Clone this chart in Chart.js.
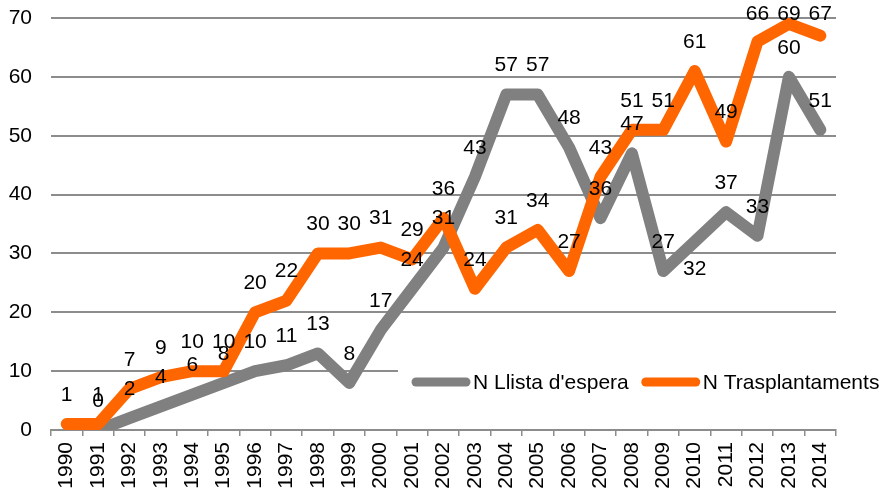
<!DOCTYPE html>
<html>
<head>
<meta charset="utf-8">
<script src="https://cdn.jsdelivr.net/npm/chart.js@4/dist/chart.umd.min.js"></script>
<style>
  html, body { margin: 0; padding: 0; background: #fff; }
  #wrap { width: 883px; height: 491px; }
</style>
</head>
<body>
<div id="wrap"><canvas id="myChart"></canvas></div>
<script>
const years = ['1990', '1991', '1992', '1993', '1994', '1995', '1996', '1997', '1998', '1999',
  '2000', '2001', '2002', '2003', '2004', '2005', '2006', '2007', '2008', '2009',
  '2010', '2011', '2012', '2013', '2014'];
const llistaEspera = [null, 0, 2, 4, 6, 8, 10, 11, 13, 8, 17, 24, 31, 43, 57, 57, 48, 36, 47, 27, 32, 37, 33, 60, 51];
const trasplantaments = [1, 1, 7, 9, 10, 10, 20, 22, 30, 30, 31, 29, 36, 24, 31, 34, 27, 43, 51, 51, 61, 49, 66, 69, 67];
const yTicks = [0, 10, 20, 30, 40, 50, 60, 70];

const FONT = "'Liberation Sans', Arial, sans-serif";

// legend inside the plot, on a white box (excel style)
const insideLegend = {
  id: 'insideLegend',
  beforeDatasetsDraw(chart) {
    const ctx = chart.ctx;
    const area = chart.chartArea;
    const cy = area.bottom - 48;
    ctx.save();
    ctx.fillStyle = '#fff';
    ctx.fillRect(area.right - 438, cy - 20, 500, 40);
    ctx.font = '21px ' + FONT;
    ctx.textBaseline = 'middle';
    let x = area.right - 424;
    chart.data.datasets.forEach(ds => {
      ctx.strokeStyle = ds.borderColor;
      ctx.lineWidth = 9;
      ctx.lineCap = 'round';
      ctx.beginPath();
      ctx.moveTo(x + 4, cy);
      ctx.lineTo(x + 54, cy);
      ctx.stroke();
      x += 61;
      ctx.fillStyle = '#000';
      ctx.fillText(ds.label, x, cy + 1);
      x += ctx.measureText(ds.label).width + 13;
    });
    ctx.restore();
  }
};

// value labels above each point
const valueLabels = {
  id: 'valueLabels',
  afterDatasetsDraw(chart) {
    const ctx = chart.ctx;
    ctx.save();
    ctx.font = '21px ' + FONT;
    ctx.fillStyle = '#000';
    ctx.textAlign = 'center';
    ctx.textBaseline = 'middle';
    chart.data.datasets.forEach((ds, i) => {
      const meta = chart.getDatasetMeta(i);
      meta.data.forEach((pt, j) => {
        const v = ds.data[j];
        if (v === null) return;
        const below = (ds.labelsBelow || []).includes(years[j]);
        let y = below ? pt.y + 28 : pt.y - 29;
        y = Math.max(y, 14);
        ctx.fillText(String(v), pt.x, y);
      });
    });
    ctx.restore();
  }
};

const ctx = document.getElementById('myChart');

new Chart(ctx, {
  type: 'line',
  data: {
    labels: years,
    datasets: [{
      label: "N Llista d'espera",
      data: llistaEspera,
      borderColor: '#808080',
      backgroundColor: '#808080',
      borderWidth: 12,
      borderCapStyle: 'round',
      borderJoinStyle: 'round',
      pointRadius: 0,
      tension: 0,
      order: 2,
      labelsBelow: ['2010']
    }, {
      label: 'N Trasplantaments',
      data: trasplantaments,
      borderColor: '#ff6600',
      backgroundColor: '#ff6600',
      borderWidth: 12,
      borderCapStyle: 'round',
      borderJoinStyle: 'round',
      pointRadius: 0,
      tension: 0,
      order: 1
    }]
  },
  options: {
    responsive: true,
    maintainAspectRatio: false,
    animation: false,
    layout: { padding: { top: 18, right: 47, bottom: 0, left: 0 } },
    plugins: {
      legend: { display: false },
      tooltip: { enabled: false },
      title: { display: false }
    },
    scales: {
      x: {
        offset: true,
        grid: {
          offset: true,
          drawOnChartArea: false,
          drawTicks: true,
          tickLength: 6,
          color: '#8c8c8c',
          lineWidth: 1.5
        },
        border: { display: true, color: '#8c8c8c', width: 2 },
        ticks: {
          autoSkip: false,
          minRotation: 90,
          maxRotation: 90,
          padding: 6,
          color: '#000',
          font: { family: FONT, size: 21 }
        },
        afterFit(scale) { scale.height = 61; }
      },
      y: {
        min: 0,
        max: 70,
        afterBuildTicks(scale) { scale.ticks = yTicks.map(v => ({ value: v })); },
        grid: { color: '#8c8c8c', lineWidth: 2, drawTicks: false },
        border: { display: false },
        ticks: {
          padding: 19,
          color: '#000',
          font: { family: FONT, size: 21 }
        },
        afterFit(scale) {
          scale.width = 51;
          scale.paddingTop = 0;
          scale.paddingBottom = 0;
        }
      }
    }
  },
  plugins: [insideLegend, valueLabels]
});
</script>
</body>
</html>
